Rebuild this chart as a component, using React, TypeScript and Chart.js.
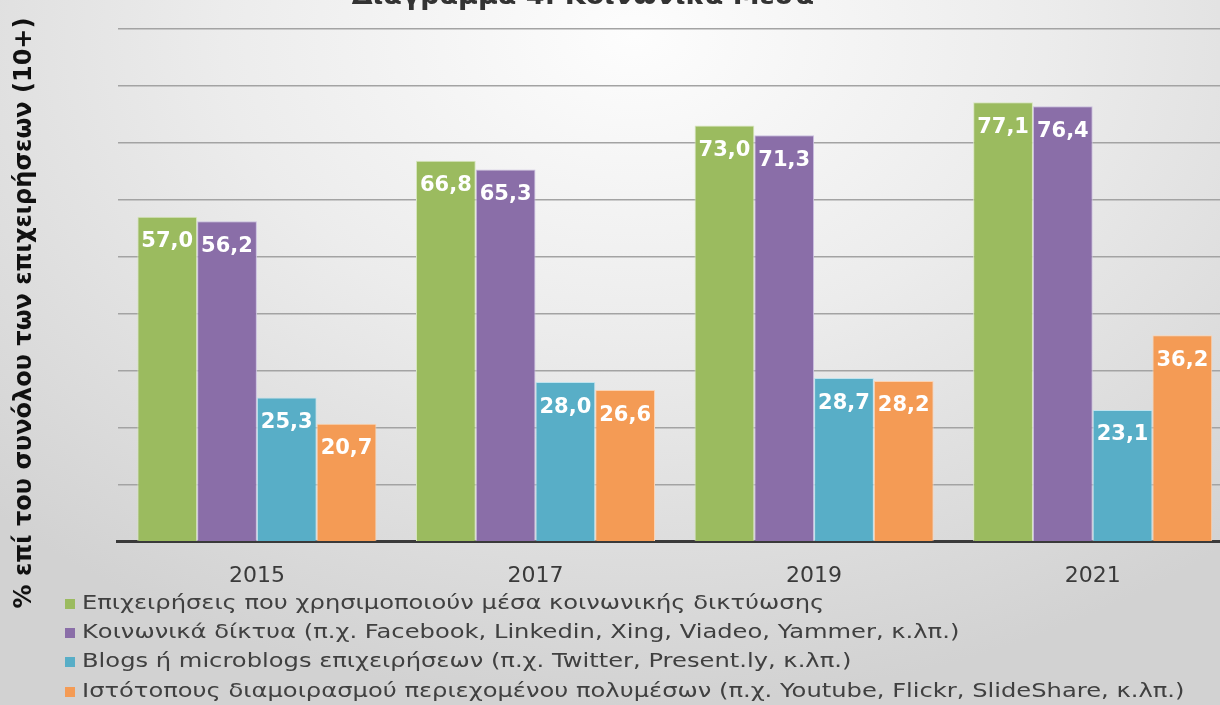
import React, { useEffect, useRef } from "react";
import { Chart, registerables } from "chart.js";

Chart.register(...registerables);

const titleText = "Διάγραμμα 4: Κοινωνικά Μέσα";
const yAxisTitle = "% επί του συνόλου των επιχειρήσεων (10+)";
const categories = ["2015", "2017", "2019", "2021"];
const seriesLabels = [
  "Επιχειρήσεις που χρησιμοποιούν μέσα κοινωνικής δικτύωσης",
  "Κοινωνικά δίκτυα (π.χ. Facebook, Linkedin, Xing, Viadeo, Yammer, κ.λπ.)",
  "Blogs ή microblogs επιχειρήσεων (π.χ. Twitter, Present.ly, κ.λπ.)",
  "Ιστότοπους διαμοιρασμού περιεχομένου πολυμέσων (π.χ. Youtube, Flickr, SlideShare, κ.λπ.)",
];
const socialMedia = [57.0, 66.8, 73.0, 77.1];
const socialNetworks = [56.2, 65.3, 71.3, 76.4];
const blogs = [25.3, 28.0, 28.7, 23.1];
const multimedia = [20.7, 26.6, 28.2, 36.2];
const yMin = 0;
const yMax = 90;
const yStep = 10;

const colors = ["#9BBB5F", "#8A6EA8", "#58AEC7", "#F49B55"];
const borders = ["#d7e6bd", "#cbbfe0", "#bfe3ee", "#fbd3b3"];

const FONT = "'DejaVu Sans', Verdana, sans-serif";

export default function App() {
  const ref = useRef<HTMLCanvasElement | null>(null);

  useEffect(() => {
    if (!ref.current) return;
    const series = [socialMedia, socialNetworks, blogs, multimedia];

    const overlay = {
      id: "overlay",
      afterDatasetsDraw(chart: any) {
        const ctx = chart.ctx;
        ctx.save();
        ctx.fillStyle = "#ffffff";
        ctx.font = `bold 21px ${FONT}`;
        ctx.textAlign = "center";
        ctx.textBaseline = "middle";
        chart.data.datasets.forEach((ds: any, i: number) => {
          const meta = chart.getDatasetMeta(i);
          meta.data.forEach((el: any, j: number) => {
            const v = ds.data[j] as number;
            ctx.fillText(v.toFixed(1).replace(".", ","), el.x, el.y + 25);
          });
        });
        ctx.restore();
      },
      afterDraw(chart: any) {
        const ctx = chart.ctx;
        ctx.save();
        // title (partly cut at top)
        ctx.fillStyle = "#333333";
        ctx.font = `bold 27px ${FONT}`;
        ctx.textAlign = "center";
        ctx.textBaseline = "alphabetic";
        ctx.fillText(titleText, 583, 4);
        // y axis title
        ctx.save();
        ctx.translate(25, 313);
        ctx.rotate(-Math.PI / 2);
        ctx.fillStyle = "#111111";
        ctx.font = `bold 24px ${FONT}`;
        ctx.textAlign = "center";
        ctx.textBaseline = "middle";
        ctx.fillText(yAxisTitle, 0, 0);
        ctx.restore();
        // legend
        const rows = [604, 633, 662, 692];
        chart.data.datasets.forEach((ds: any, i: number) => {
          const y = rows[i];
          ctx.fillStyle = colors[i];
          ctx.fillRect(65, y - 5, 10, 10);
          ctx.save();
          ctx.translate(82, y);
          ctx.scale(1.21, 1);
          ctx.font = `20px ${FONT}`;
          ctx.textAlign = "left";
          ctx.textBaseline = "middle";
          ctx.fillStyle = "#404040";
          ctx.fillText(ds.label, 0, 0);
          ctx.restore();
        });
        ctx.restore();
      },
    };

    const chart = new Chart(ref.current, {
      type: "bar",
      data: {
        labels: categories,
        datasets: series.map((d, i) => ({
          label: seriesLabels[i],
          data: d,
          backgroundColor: colors[i],
          borderColor: borders[i],
          borderWidth: 1,
          categoryPercentage: 0.858,
          barPercentage: 1,
        })),
      },
      options: {
        animation: false,
        responsive: false,
        devicePixelRatio: 1,
        layout: { padding: { left: 117.6, top: 28.6, right: 0, bottom: 118.3 } },
        plugins: {
          legend: { display: false },
          title: { display: false },
          tooltip: { enabled: false },
        },
        scales: {
          x: {
            grid: { display: false, drawTicks: false },
            border: { display: true, color: "#3a3a3a", width: 3 },
            ticks: {
              color: "#3a3a3a",
              font: { family: FONT, size: 22 },
              padding: 21,
            },
            afterFit(scale: any) {
              scale.height = 45;
            },
          },
          y: {
            min: yMin,
            max: yMax,
            ticks: { display: false, stepSize: yStep },
            grid: { color: "#a3a3a3", lineWidth: 1.5, drawTicks: false },
            border: { display: false },
            afterFit(scale: any) {
              scale.width = 0;
            },
          },
        },
      },
      plugins: [overlay],
    });
    return () => chart.destroy();
  }, []);

  return (
    <div
      style={{
        position: "fixed",
        left: 0,
        top: 0,
        width: 1220,
        height: 705,
        overflow: "hidden",
        background:
          "radial-gradient(ellipse 75% 95% at 52% 5%, #fdfdfd 0%, #ececec 45%, #d2d2d2 100%)",
      }}
    >
      <canvas ref={ref} width={1232} height={705} style={{ display: "block" }} />
    </div>
  );
}
